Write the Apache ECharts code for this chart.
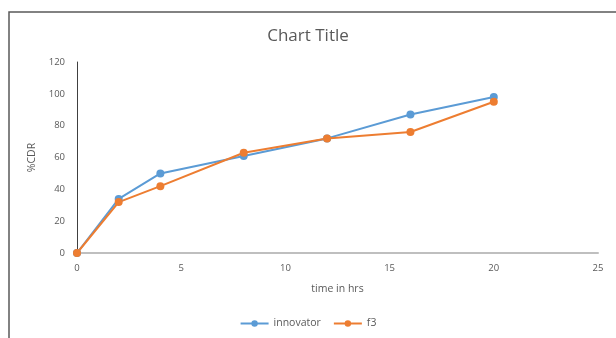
<!DOCTYPE html>
<html>
<head>
<meta charset="utf-8">
<script src="https://cdn.jsdelivr.net/npm/echarts@6/dist/echarts.min.js"></script>
<style>
  html, body { margin: 0; padding: 0; background: #fff; }
  #chart { width: 616px; height: 338px; }
</style>
</head>
<body>
<div id="chart"></div>
<script>
  // time points (hrs) and %CDR values
  var hours = [0, 2, 4, 8, 12, 16, 20];
  var innovator = [0, 34, 50, 61, 72, 87, 98];
  var f3 = [0, 32, 42, 63, 72, 76, 95];
  var seriesNames = ['innovator', 'f3'];

  function pairs(xs, ys) {
    return xs.map(function (x, i) { return [x, ys[i]]; });
  }

  var font = '"Open Sans", "Liberation Sans", sans-serif';
  var chart = echarts.init(document.getElementById('chart'));

  chart.setOption({
    animation: false,
    color: ['#5b9bd5', '#ed7d31'],
    textStyle: { fontFamily: font },
    graphic: [{
      type: 'rect',
      shape: { x: 9, y: 12, width: 700, height: 400 },
      style: { fill: 'none', stroke: '#595959', lineWidth: 1.5 },
      silent: true
    }],
    title: {
      text: 'Chart Title',
      left: 'center',
      top: 23,
      textStyle: { fontFamily: font, fontSize: 17, fontWeight: 'normal', color: '#595959' }
    },
    legend: {
      data: seriesNames,
      bottom: 4,
      left: 'center',
      itemWidth: 28,
      itemHeight: 8,
      itemGap: 12,
      textStyle: { fontFamily: font, fontSize: 10.5, color: '#595959' }
    },
    grid: { left: 77, right: 18, top: 62, bottom: 85 },
    xAxis: {
      type: 'value',
      min: 0,
      max: 25,
      interval: 5,
      name: 'time in hrs',
      nameLocation: 'middle',
      nameGap: 31,
      nameTextStyle: { fontFamily: font, fontSize: 10.5, color: '#595959' },
      axisLine: { show: true, lineStyle: { color: '#bfbfbf', width: 2 } },
      axisTick: { show: false },
      splitLine: { show: false },
      axisLabel: { fontSize: 9.5, color: '#595959', margin: 10 }
    },
    yAxis: {
      type: 'value',
      min: 0,
      max: 120,
      interval: 20,
      name: '%CDR',
      nameLocation: 'middle',
      nameGap: 39,
      nameTextStyle: { fontFamily: font, fontSize: 10.5, color: '#595959' },
      axisLine: { show: true, lineStyle: { color: '#404040', width: 1 } },
      axisTick: { show: false },
      splitLine: { show: false },
      axisLabel: { fontSize: 9.5, color: '#595959', margin: 12 }
    },
    series: [{
      name: seriesNames[0],
      type: 'line',
      data: pairs(hours, innovator),
      symbol: 'circle',
      symbolSize: 8,
      lineStyle: { width: 2 }
    }, {
      name: seriesNames[1],
      type: 'line',
      data: pairs(hours, f3),
      symbol: 'circle',
      symbolSize: 8,
      lineStyle: { width: 2 }
    }]
  });
</script>
</body>
</html>
